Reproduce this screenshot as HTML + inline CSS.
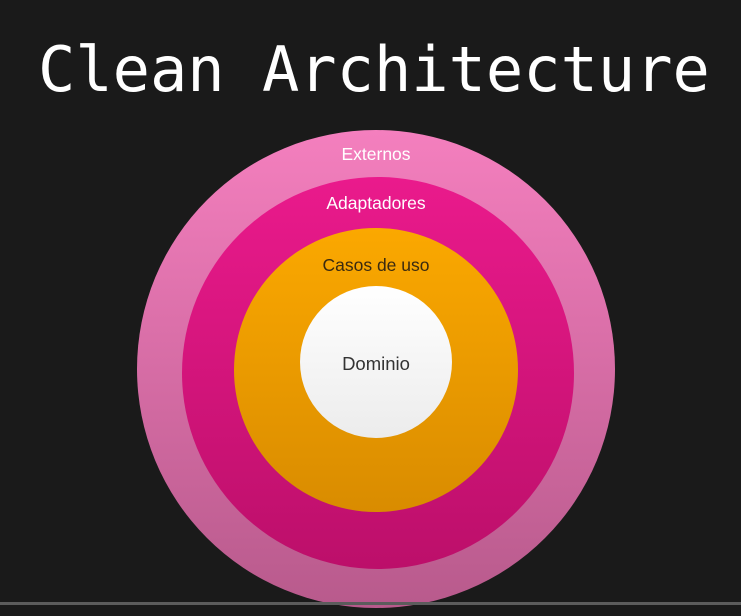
<!DOCTYPE html>
<html><head><style>
body{margin:0;width:741px;height:616px;background:#1a1a1a;overflow:hidden;position:relative;font-family:"Liberation Sans",sans-serif}
.t{position:absolute;left:38px;top:30px;font-family:"DejaVu Sans Mono","Liberation Mono",monospace;font-size:62px;color:#fff;line-height:80px;white-space:nowrap}
</style></head><body>
<div class="t">Clean Architecture</div>
<svg width="741" height="616" style="position:absolute;left:0;top:0">
<defs>
<linearGradient id="g1" x1="0" y1="0" x2="0" y2="1"><stop offset="0" stop-color="#f47fbe"/><stop offset="1" stop-color="#b85a8c"/></linearGradient>
<linearGradient id="g2" x1="0" y1="0" x2="0" y2="1"><stop offset="0" stop-color="#ea1a8c"/><stop offset="1" stop-color="#bc0f6a"/></linearGradient>
<linearGradient id="g3" x1="0" y1="0" x2="0" y2="1"><stop offset="0" stop-color="#fba800"/><stop offset="1" stop-color="#d98c00"/></linearGradient>
<linearGradient id="g4" x1="0" y1="0" x2="0" y2="1"><stop offset="0" stop-color="#ffffff"/><stop offset="1" stop-color="#ececec"/></linearGradient>
</defs>
<circle cx="376" cy="369" r="239" fill="url(#g1)"/>
<circle cx="378" cy="373" r="196" fill="url(#g2)"/>
<circle cx="376" cy="370" r="142" fill="url(#g3)"/>
<circle cx="376" cy="362" r="76" fill="url(#g4)"/>
<text x="376" y="160" font-family="Liberation Sans" font-size="17.5" fill="#fff" text-anchor="middle">Externos</text>
<text x="376" y="209" font-family="Liberation Sans" font-size="17.5" fill="#fff" text-anchor="middle">Adaptadores</text>
<text x="376" y="271" font-family="Liberation Sans" font-size="17.5" fill="#3a2a10" text-anchor="middle">Casos de uso</text>
<text x="376" y="370" font-family="Liberation Sans" font-size="18.5" fill="#333" text-anchor="middle">Dominio</text>
<rect x="0" y="602" width="741" height="3" fill="#5c5c5c"/>
</svg>
</body></html>
